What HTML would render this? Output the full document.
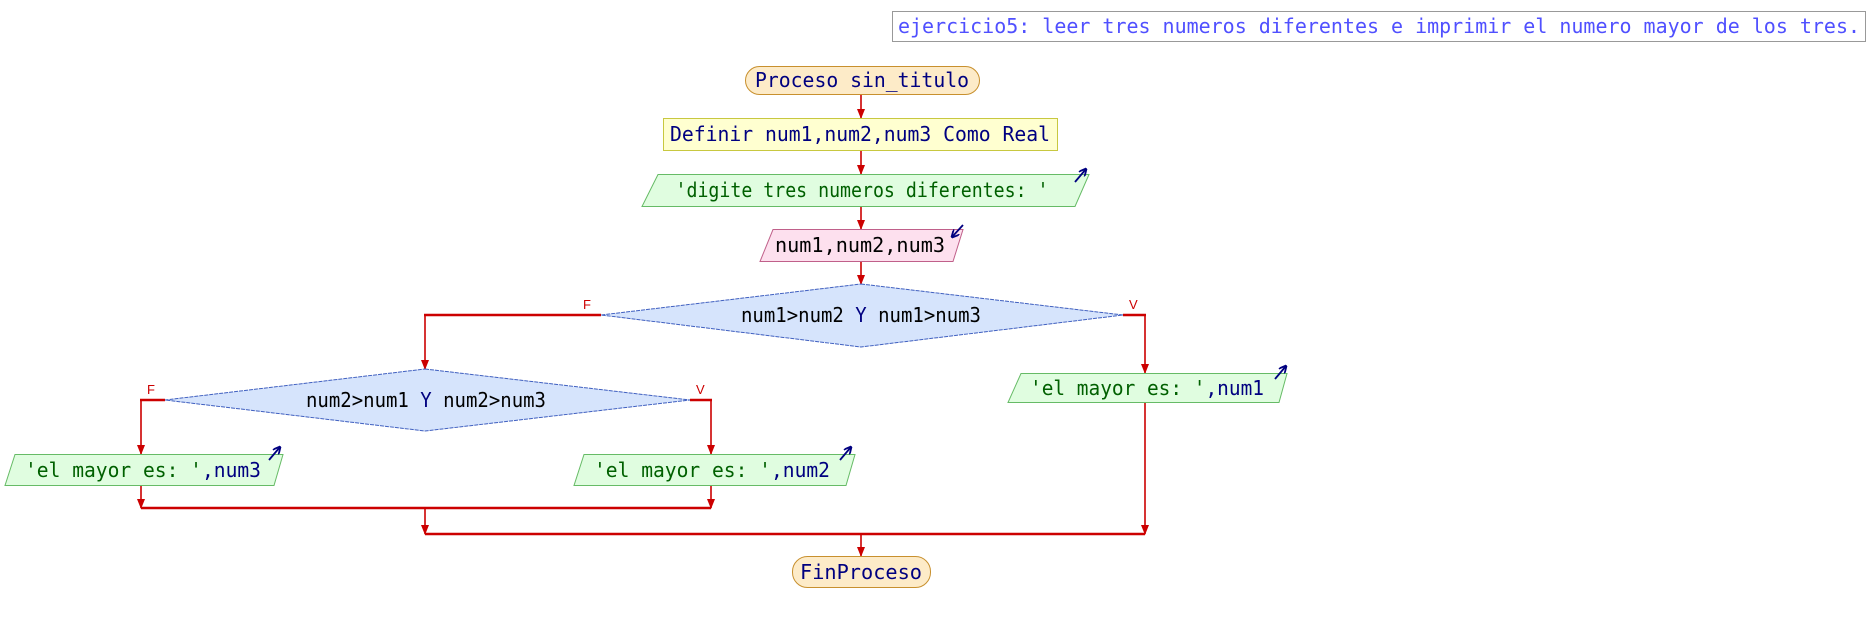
<!DOCTYPE html>
<html><head><meta charset="utf-8"><style>
html,body{margin:0;padding:0;background:#fff;width:1874px;height:625px;overflow:hidden}
svg text{font-family:"DejaVu Sans Mono","Liberation Mono",monospace;}
</style></head><body>
<svg width="1874" height="625" viewBox="0 0 1874 625" xmlns="http://www.w3.org/2000/svg">
<defs>
<marker id="ah" markerWidth="10" markerHeight="8" refX="9" refY="4" orient="auto" markerUnits="userSpaceOnUse">
<path d="M0,0 L10,4 L0,8 z" fill="#cc0000"/></marker>
<marker id="na" markerWidth="8" markerHeight="8" refX="7" refY="4" orient="auto" markerUnits="userSpaceOnUse">
<path d="M0,0 L8,4 L0,8" fill="none" stroke="#000080" stroke-width="1.8"/></marker>
</defs>
<rect x="892.5" y="11.5" width="973" height="30" fill="#fff" stroke="#999" stroke-width="1"/>
<text x="898" y="33" font-size="20" fill="#5050ff" textLength="962" lengthAdjust="spacingAndGlyphs">ejercicio5: leer tres numeros diferentes e imprimir el numero mayor de los tres.</text>

<g stroke="#cc0000" stroke-width="1.6" fill="none">
<line x1="861" y1="94" x2="861" y2="118" marker-end="url(#ah)"/>
<line x1="861" y1="151" x2="861" y2="174" marker-end="url(#ah)"/>
<line x1="861" y1="206" x2="861" y2="229" marker-end="url(#ah)"/>
<line x1="861" y1="261" x2="861" y2="284" marker-end="url(#ah)"/>
<line x1="425" y1="315" x2="425" y2="369" marker-end="url(#ah)"/>
<line x1="1145" y1="315" x2="1145" y2="373" marker-end="url(#ah)"/>
<line x1="141" y1="400" x2="141" y2="454" marker-end="url(#ah)"/>
<line x1="711" y1="400" x2="711" y2="454" marker-end="url(#ah)"/>
<line x1="141" y1="486" x2="141" y2="508" marker-end="url(#ah)"/>
<line x1="711" y1="486" x2="711" y2="508" marker-end="url(#ah)"/>
<line x1="425" y1="508" x2="425" y2="534" marker-end="url(#ah)"/>
<line x1="1145" y1="402" x2="1145" y2="534" marker-end="url(#ah)"/>
<line x1="861" y1="534" x2="861" y2="556" marker-end="url(#ah)"/>
</g>
<g stroke="#cc0000" stroke-width="2.6">
<line x1="424" y1="315" x2="601" y2="315"/>
<line x1="1123" y1="315" x2="1146" y2="315"/>
<line x1="140" y1="400" x2="165" y2="400"/>
<line x1="690" y1="400" x2="712" y2="400"/>
<line x1="141" y1="508" x2="711" y2="508"/>
<line x1="425" y1="534" x2="1145" y2="534"/>
</g>
<g fill="#cc0000" font-size="13">
<text x="583" y="309" style="font-family:'Liberation Sans',sans-serif">F</text>
<text x="1129" y="309" style="font-family:'Liberation Sans',sans-serif">V</text>
<text x="147" y="394" style="font-family:'Liberation Sans',sans-serif">F</text>
<text x="696" y="394" style="font-family:'Liberation Sans',sans-serif">V</text>
</g>

<rect x="745.5" y="66.5" width="234" height="28" rx="14" fill="#fdebc8" stroke="#c8902e"/>
<text x="862" y="87" font-size="20" fill="#000080" text-anchor="middle" textLength="214" lengthAdjust="spacingAndGlyphs">Proceso sin_titulo</text>
<rect x="663.5" y="118.5" width="394" height="32" fill="#ffffd0" stroke="#c8c840"/>
<text x="860" y="141" font-size="20" fill="#000080" text-anchor="middle" textLength="380" lengthAdjust="spacingAndGlyphs">Definir num1,num2,num3 Como Real</text>
<polygon points="658,174.5 1089,174.5 1075,206.5 642,206.5" fill="#e0fde0" stroke="#66bb66"/>
<text x="862" y="197" font-size="20" fill="#006000" text-anchor="middle" textLength="373" lengthAdjust="spacingAndGlyphs">'digite tres numeros diferentes: '</text>
<line x1="1075" y1="182" x2="1086" y2="169" stroke="#000080" stroke-width="1.8" marker-end="url(#na)"/>
<polygon points="773,229.5 963,229.5 953,261.5 760,261.5" fill="#fde0ee" stroke="#c0608a"/>
<text x="860" y="252" font-size="20" fill="#000" text-anchor="middle" textLength="170" lengthAdjust="spacingAndGlyphs">num1,num2,num3</text>
<line x1="963" y1="225" x2="952" y2="237" stroke="#000080" stroke-width="1.8" marker-end="url(#na)"/>
<polygon points="861,284 1123,315 861,347 601,315" fill="#d6e4fc" stroke="#4060c0" stroke-dasharray="4,1"/>
<text x="861" y="322" font-size="20" fill="#000" text-anchor="middle" textLength="240" lengthAdjust="spacingAndGlyphs">num1&gt;num2 <tspan fill="#000080">Y</tspan> num1&gt;num3</text>
<polygon points="425,369 690,400 425,431 165,400" fill="#d6e4fc" stroke="#4060c0" stroke-dasharray="4,1"/>
<text x="426" y="407" font-size="20" fill="#000" text-anchor="middle" textLength="240" lengthAdjust="spacingAndGlyphs">num2&gt;num1 <tspan fill="#000080">Y</tspan> num2&gt;num3</text>

<polygon points="1021,373.5 1287,373.5 1279,402.5 1008,402.5" fill="#e0fde0" stroke="#66bb66"/>
<text x="1030" y="395" font-size="20" fill="#006000" textLength="234" lengthAdjust="spacingAndGlyphs">'el mayor es: '<tspan fill="#000080">,num1</tspan></text>
<line x1="1275" y1="379" x2="1286" y2="366" stroke="#000080" stroke-width="1.8" marker-end="url(#na)"/>

<polygon points="15,454.5 283,454.5 274,485.5 5,485.5" fill="#e0fde0" stroke="#66bb66"/>
<text x="25" y="477" font-size="20" fill="#006000" textLength="236" lengthAdjust="spacingAndGlyphs">'el mayor es: '<tspan fill="#000080">,num3</tspan></text>
<line x1="269" y1="460" x2="280" y2="447" stroke="#000080" stroke-width="1.8" marker-end="url(#na)"/>

<polygon points="584,454.5 855,454.5 846,485.5 574,485.5" fill="#e0fde0" stroke="#66bb66"/>
<text x="594" y="477" font-size="20" fill="#006000" textLength="236" lengthAdjust="spacingAndGlyphs">'el mayor es: '<tspan fill="#000080">,num2</tspan></text>
<line x1="840" y1="460" x2="851" y2="447" stroke="#000080" stroke-width="1.8" marker-end="url(#na)"/>

<rect x="792.5" y="556.5" width="138" height="31" rx="15" fill="#fdebc8" stroke="#c8902e"/>
<text x="861" y="579" font-size="20" fill="#000080" text-anchor="middle" textLength="122" lengthAdjust="spacingAndGlyphs">FinProceso</text>
</svg>
</body></html>
